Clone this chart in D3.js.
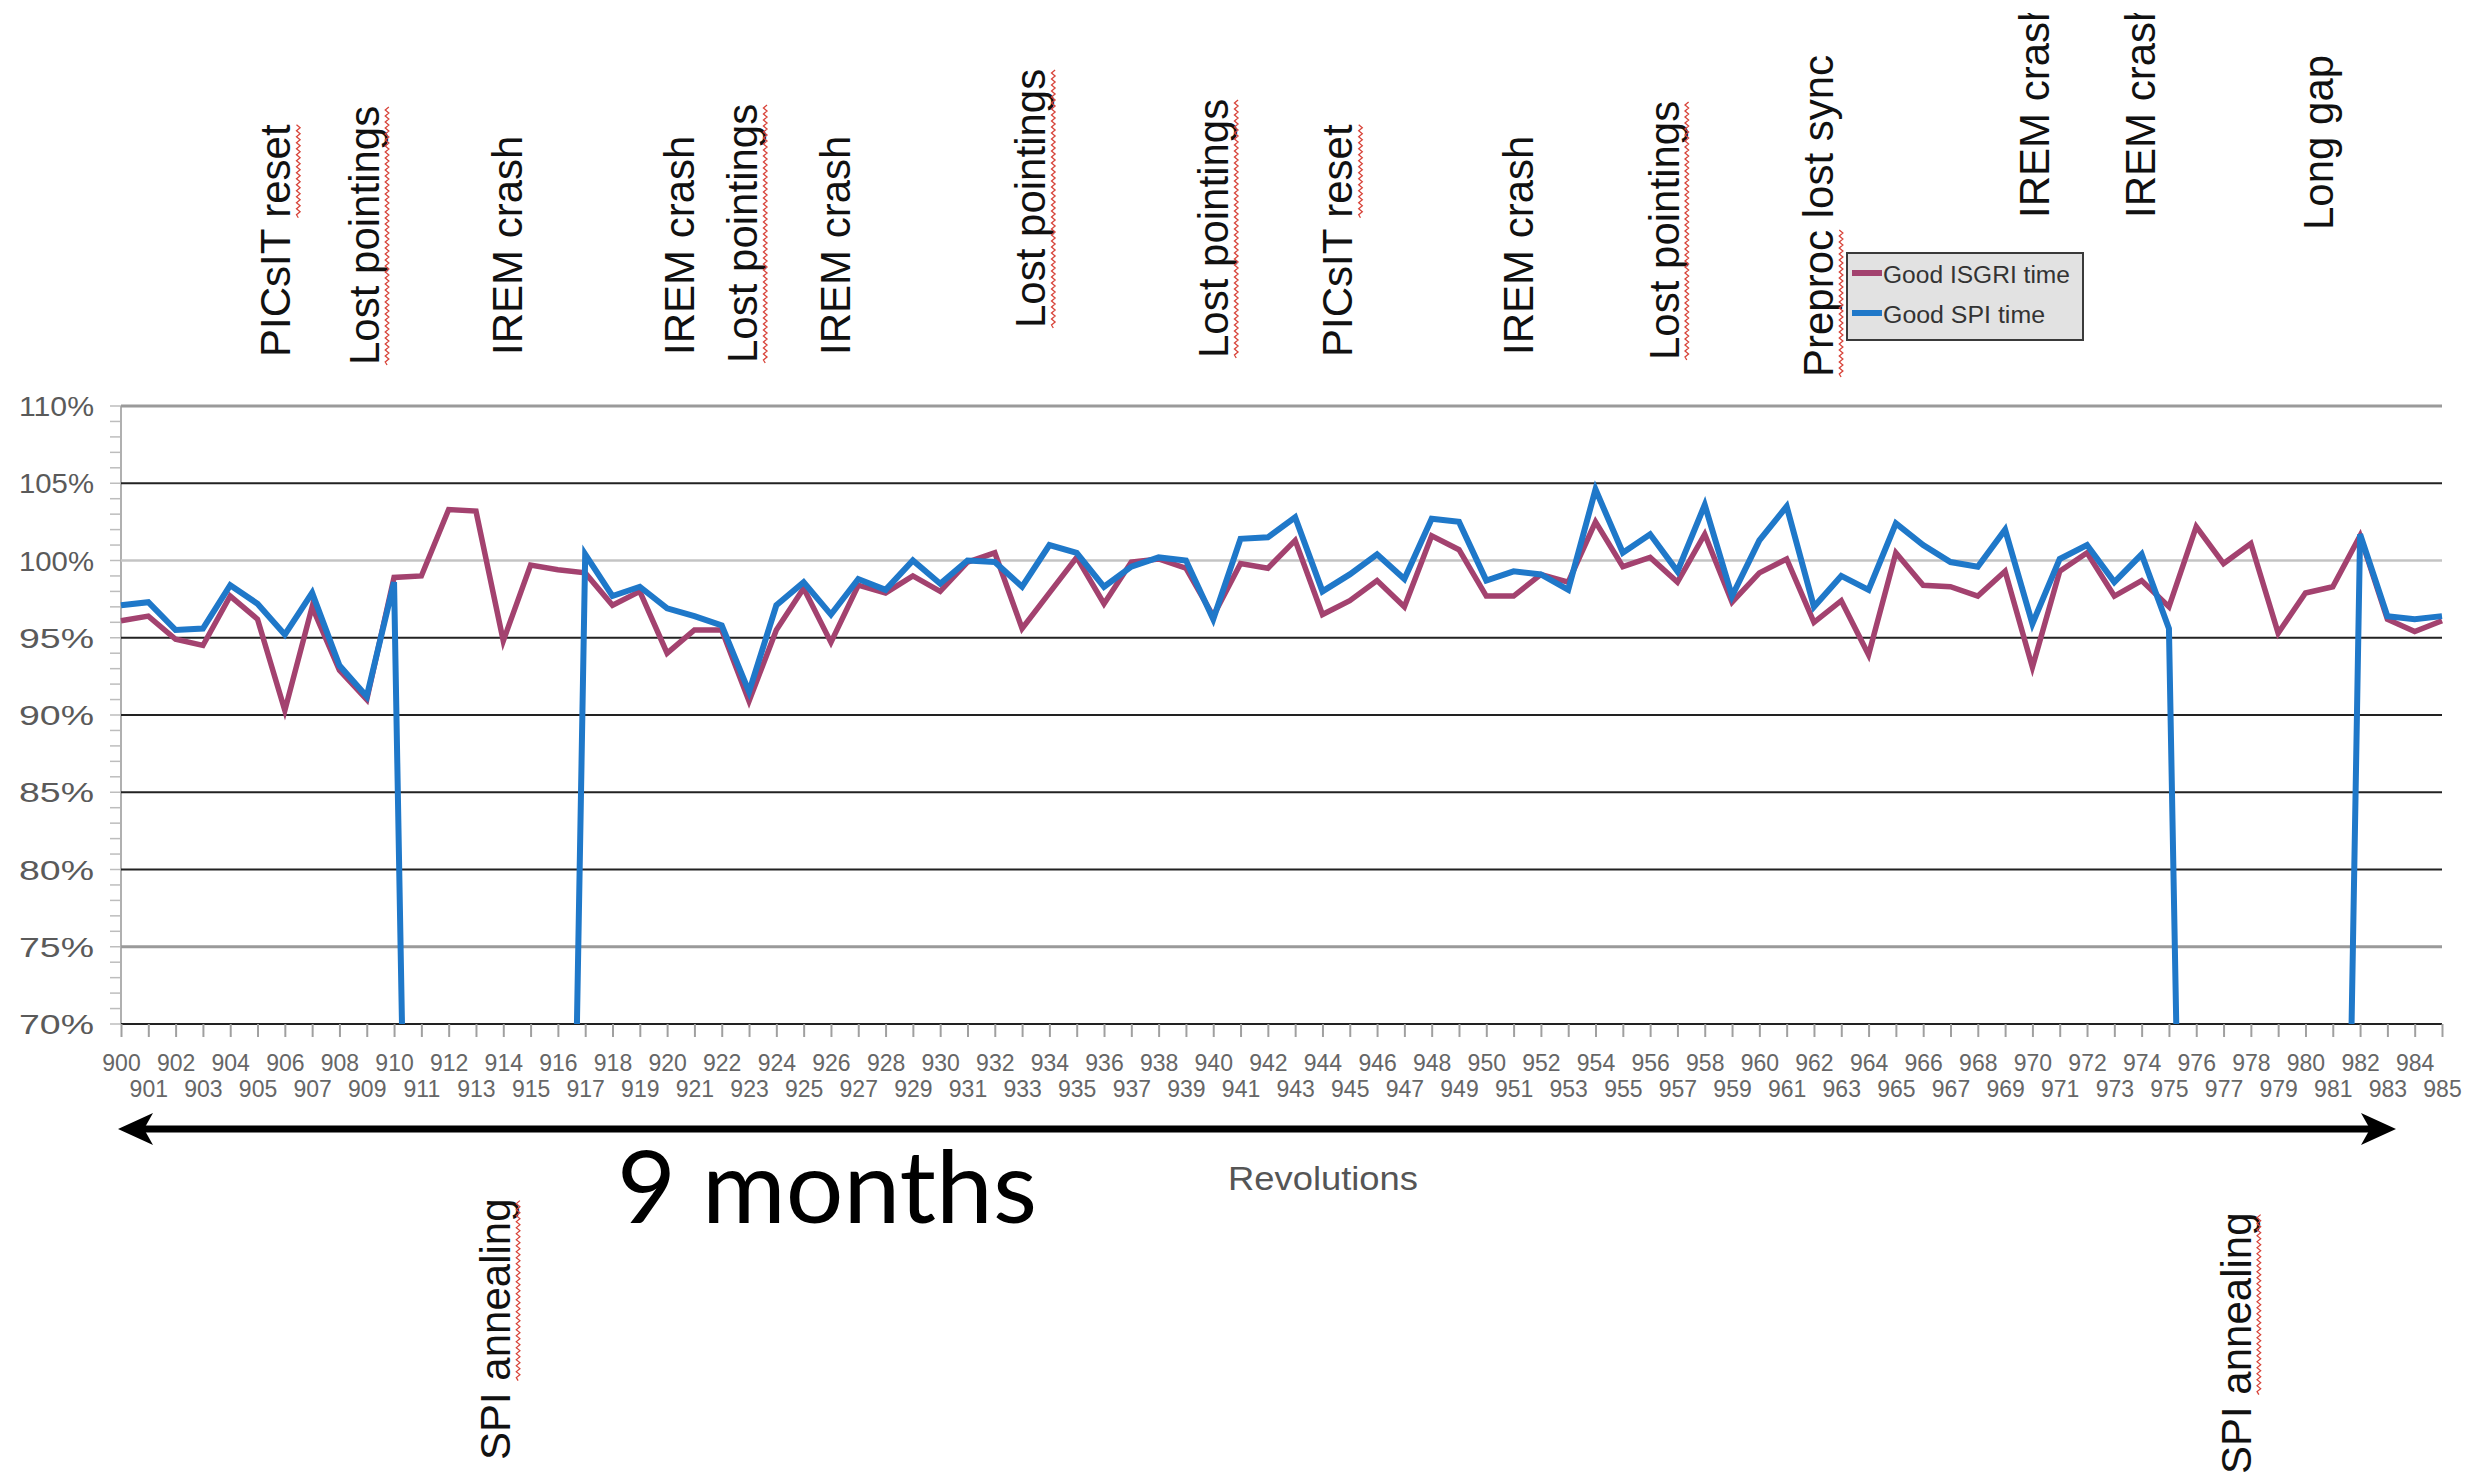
<!DOCTYPE html>
<html><head><meta charset="utf-8">
<script src="https://cdn.jsdelivr.net/npm/d3@7"></script>
<style>html,body{margin:0;padding:0;background:#fff;} svg{display:block;}</style>
</head><body>
<svg id="chart" width="2485" height="1482"></svg>
<script>
// ---------- DATA ----------
const revolutions = [
  900,901,902,903,904,905,906,907,908,909,
  910,911,912,913,914,915,916,917,918,919,
  920,921,922,923,924,925,926,927,928,929,
  930,931,932,933,934,935,936,937,938,939,
  940,941,942,943,944,945,946,947,948,949,
  950,951,952,953,954,955,956,957,958,959,
  960,961,962,963,964,965,966,967,968,969,
  970,971,972,973,974,975,976,977,978,979,
  980,981,982,983,984,985];
const isgriTime = [
  96.1,96.4,94.9,94.5,97.7,96.2,90.3,97.0,92.9,91.0,
  98.9,99.0,103.3,103.2,94.8,99.7,99.4,99.2,97.1,98.0,
  94.0,95.5,95.5,90.9,95.5,98.2,94.7,98.4,97.9,99.0,
  98.0,99.9,100.5,95.6,97.9,100.2,97.2,99.9,100.1,99.5,
  96.4,99.8,99.5,101.3,96.5,97.4,98.7,97.0,101.6,100.7,
  97.7,97.7,99.1,98.6,102.5,99.6,100.2,98.6,101.7,97.3,
  99.2,100.1,96.0,97.4,93.9,100.5,98.4,98.3,97.7,99.3,
  93.1,99.3,100.5,97.7,98.7,97.0,102.2,99.8,101.1,95.3,
  97.9,98.3,101.6,96.2,95.4,96.1];
const spiTime = [
  97.1,97.3,95.5,95.6,98.4,97.2,95.2,97.9,93.2,91.2,
  98.6,0,0,0,0,0,0,100.4,97.7,98.3,
  96.9,96.4,95.8,91.5,97.1,98.6,96.5,98.8,98.1,100.0,
  98.5,100.0,99.9,98.3,101.0,100.5,98.3,99.6,100.2,100.0,
  96.2,101.4,101.5,102.8,98.0,99.1,100.4,98.8,102.7,102.5,
  98.7,99.3,99.1,98.1,104.6,100.5,101.7,99.3,103.6,97.7,
  101.3,103.5,97.0,99.0,98.1,102.4,101.0,99.9,99.6,102.0,
  95.9,100.1,101.0,98.6,100.4,95.6,0,0,0,0,
  0,0,101.7,96.4,96.2,96.4];
const seriesNames = ["Good ISGRI time", "Good SPI time"];
const yTicks = [70,75,80,85,90,95,100,105,110];
const eventLabels = ["PICsIT reset","Lost pointings","IREM crash","IREM crash","Lost pointings","IREM crash",
  "Lost pointings","Lost pointings","PICsIT reset","IREM crash","Lost pointings","Preproc lost sync",
  "IREM crash","IREM crash","Long gap"];
const eventRevs = [906.2,909.45,914.7,921.0,923.3,926.7,933.85,940.55,945.1,951.7,957.05,962.7,970.6,974.5,981.0];
const eventFlagged = ["reset","Lost pointings","","","Lost pointings","","Lost pointings","Lost pointings",
  "reset","","Lost pointings","Preproc","","",""];
const annealLabels = ["SPI annealing","SPI annealing"];
const annealRevs = [914.25, 978.0];
const xTitle = "Revolutions";
const spanLabel = "9 months";

// ---------- LAYOUT ----------
const W = 2485, H = 1482;
const L = 121, R = 2442, T = 406, B = 1024;
const colors = ["#a3426f", "#1f78c9"];
const svg = d3.select("#chart");
svg.append("rect").attr("width", W).attr("height", H).attr("fill", "#fff");

const x = d3.scalePoint().domain(revolutions).range([L, R]);
const xl = d3.scaleLinear().domain([revolutions[0], revolutions[revolutions.length-1]]).range([L, R]);
const y = d3.scaleLinear().domain([70, 110]).range([B, T]);

const defs = svg.append("defs");
defs.append("clipPath").attr("id","plotclip").append("rect")
  .attr("x", 0).attr("y", T - 40).attr("width", W).attr("height", B - T + 40);
defs.append("clipPath").attr("id","topclip").append("rect")
  .attr("x", 0).attr("y", 13).attr("width", W).attr("height", H);

// minor y ticks (every 1%)
const minor = svg.append("g");
minor.selectAll("line").data(d3.range(70, 111, 1)).join("line")
  .attr("x1", L - 11).attr("x2", L).attr("y1", d => y(d)).attr("y2", d => y(d))
  .attr("stroke", "#bdbdbd").attr("stroke-width", 1.5);
svg.append("line").attr("x1", L).attr("x2", L).attr("y1", T).attr("y2", B)
  .attr("stroke", "#b0b0b0").attr("stroke-width", 2);

// gridlines
const gridStyle = v => (v === 110 || v === 75) ? ["#9a9a9a", 3] : (v === 100 ? ["#c4c4c4", 2.5] : ["#222", 2]);
svg.append("g").selectAll("line").data(yTicks).join("line")
  .attr("x1", L).attr("x2", R).attr("y1", d => y(d)).attr("y2", d => y(d))
  .attr("stroke", d => gridStyle(d)[0]).attr("stroke-width", d => gridStyle(d)[1]);

// y axis labels
const yAxis = d3.axisLeft(y).tickValues(yTicks).tickFormat(d => d + "%").tickSize(0).tickPadding(0);
const gy = svg.append("g").attr("transform", `translate(${L - 27},0)`).call(yAxis);
gy.select(".domain").remove();
gy.selectAll("text").attr("font-family", "Liberation Sans, Arial, sans-serif").attr("font-size", 27)
  .attr("fill", "#5a5a5a").attr("textLength", 75).attr("lengthAdjust", "spacingAndGlyphs").attr("dy", "0.36em");

// x axis
const xAxis = d3.axisBottom(x).tickSize(13).tickPadding(0);
const gx = svg.append("g").attr("transform", `translate(0,${B})`).call(xAxis);
gx.select(".domain").remove();
gx.selectAll(".tick line").attr("stroke", "#a0a0a0").attr("stroke-width", 2);
gx.selectAll("text").attr("font-family", "Liberation Sans, Arial, sans-serif").attr("font-size", 23)
  .attr("fill", "#666").attr("dy", null)
  .attr("y", (d, i) => i % 2 === 0 ? 47 : 73);

// lines
const line = d3.line().x((d, i) => x(revolutions[i])).y(d => y(d));
const plot = svg.append("g").attr("clip-path", "url(#plotclip)");
[isgriTime, spiTime].forEach((s, k) => {
  plot.append("path").datum(s).attr("d", line).attr("fill", "none")
    .attr("stroke", colors[k]).attr("stroke-width", k === 0 ? 5.5 : 6)
    .attr("stroke-linejoin", "miter").attr("stroke-miterlimit", 4);
});

// wavy underline helper
function wavy(x0, x1, yy) {
  let d = `M${x0},${yy}`, up = true;
  for (let xx = x0 + 3; xx <= x1; xx += 3) { d += `L${xx},${yy + (up ? -1.8 : 1.8)}`; up = !up; }
  return d;
}
function rotLabel(g, txt, flag, xb, yb) {
  const gg = g.append("g").attr("transform", `translate(${xb},${yb}) rotate(-90)`);
  const t = gg.append("text").attr("x", 0).attr("y", 0).text(txt)
    .attr("font-family", "Liberation Sans, Arial, sans-serif").attr("font-size", 42).attr("fill", "#111");
  if (flag) {
    const idx = txt.indexOf(flag);
    const node = t.node();
    const s = idx > 0 ? node.getSubStringLength(0, idx) : 0;
    const w = node.getSubStringLength(idx, flag.length);
    gg.append("path").attr("d", wavy(s, s + w, 8)).attr("fill", "none")
      .attr("stroke", "#d8443a").attr("stroke-width", 1.3);
  }
}

// top event annotations
const eventBaseY = [357,365,355,355,363,355,328,358,357,355,360,377,218,218,230];
const topG = svg.append("g").attr("clip-path", "url(#topclip)");
eventLabels.forEach((lab, i) => rotLabel(topG, lab, eventFlagged[i], xl(eventRevs[i]), eventBaseY[i]));

// bottom annotations
const annealBaseY = [1460, 1474];
annealLabels.forEach((lab, i) => rotLabel(svg, lab, "annealing", xl(annealRevs[i]), annealBaseY[i]));

// legend
const lg = svg.append("g").attr("transform", "translate(1847,253)");
lg.append("rect").attr("width", 236).attr("height", 87).attr("fill", "#e2e2e2")
  .attr("stroke", "#3a3a3a").attr("stroke-width", 2);
seriesNames.forEach((n, i) => {
  lg.append("line").attr("x1", 5).attr("x2", 35).attr("y1", 20 + i * 40).attr("y2", 20 + i * 40)
    .attr("stroke", colors[i]).attr("stroke-width", 6);
  lg.append("text").attr("x", 36).attr("y", 30 + i * 40).text(n)
    .attr("font-family", "Liberation Sans Narrow, Liberation Sans, Arial, sans-serif").attr("font-size", 23)
    .attr("fill", "#333").attr("textLength", i === 0 ? 187 : 162).attr("lengthAdjust", "spacingAndGlyphs");
});

// x title
svg.append("text").attr("x", 1323).attr("y", 1190).attr("text-anchor", "middle").text(xTitle)
  .attr("font-family", "Liberation Sans, Arial, sans-serif").attr("font-size", 34).attr("fill", "#555")
  .attr("textLength", 190).attr("lengthAdjust", "spacingAndGlyphs");

// double arrow
const ay = 1129;
svg.append("line").attr("x1", 140).attr("x2", 2374).attr("y1", ay).attr("y2", ay)
  .attr("stroke", "#000").attr("stroke-width", 7);
svg.append("path").attr("d", `M118,${ay} L153,${ay-16} L144,${ay} L153,${ay+16} Z`).attr("fill", "#000");
svg.append("path").attr("d", `M2396,${ay} L2361,${ay-16} L2370,${ay} L2361,${ay+16} Z`).attr("fill", "#000");

svg.append("text").attr("x", 617).attr("y", 1223).text(spanLabel)
  .attr("font-family", "Lato, 'Open Sans', sans-serif").attr("font-size", 100).attr("fill", "#000")
  .attr("textLength", 420).attr("lengthAdjust", "spacingAndGlyphs");
</script>
</body></html>
